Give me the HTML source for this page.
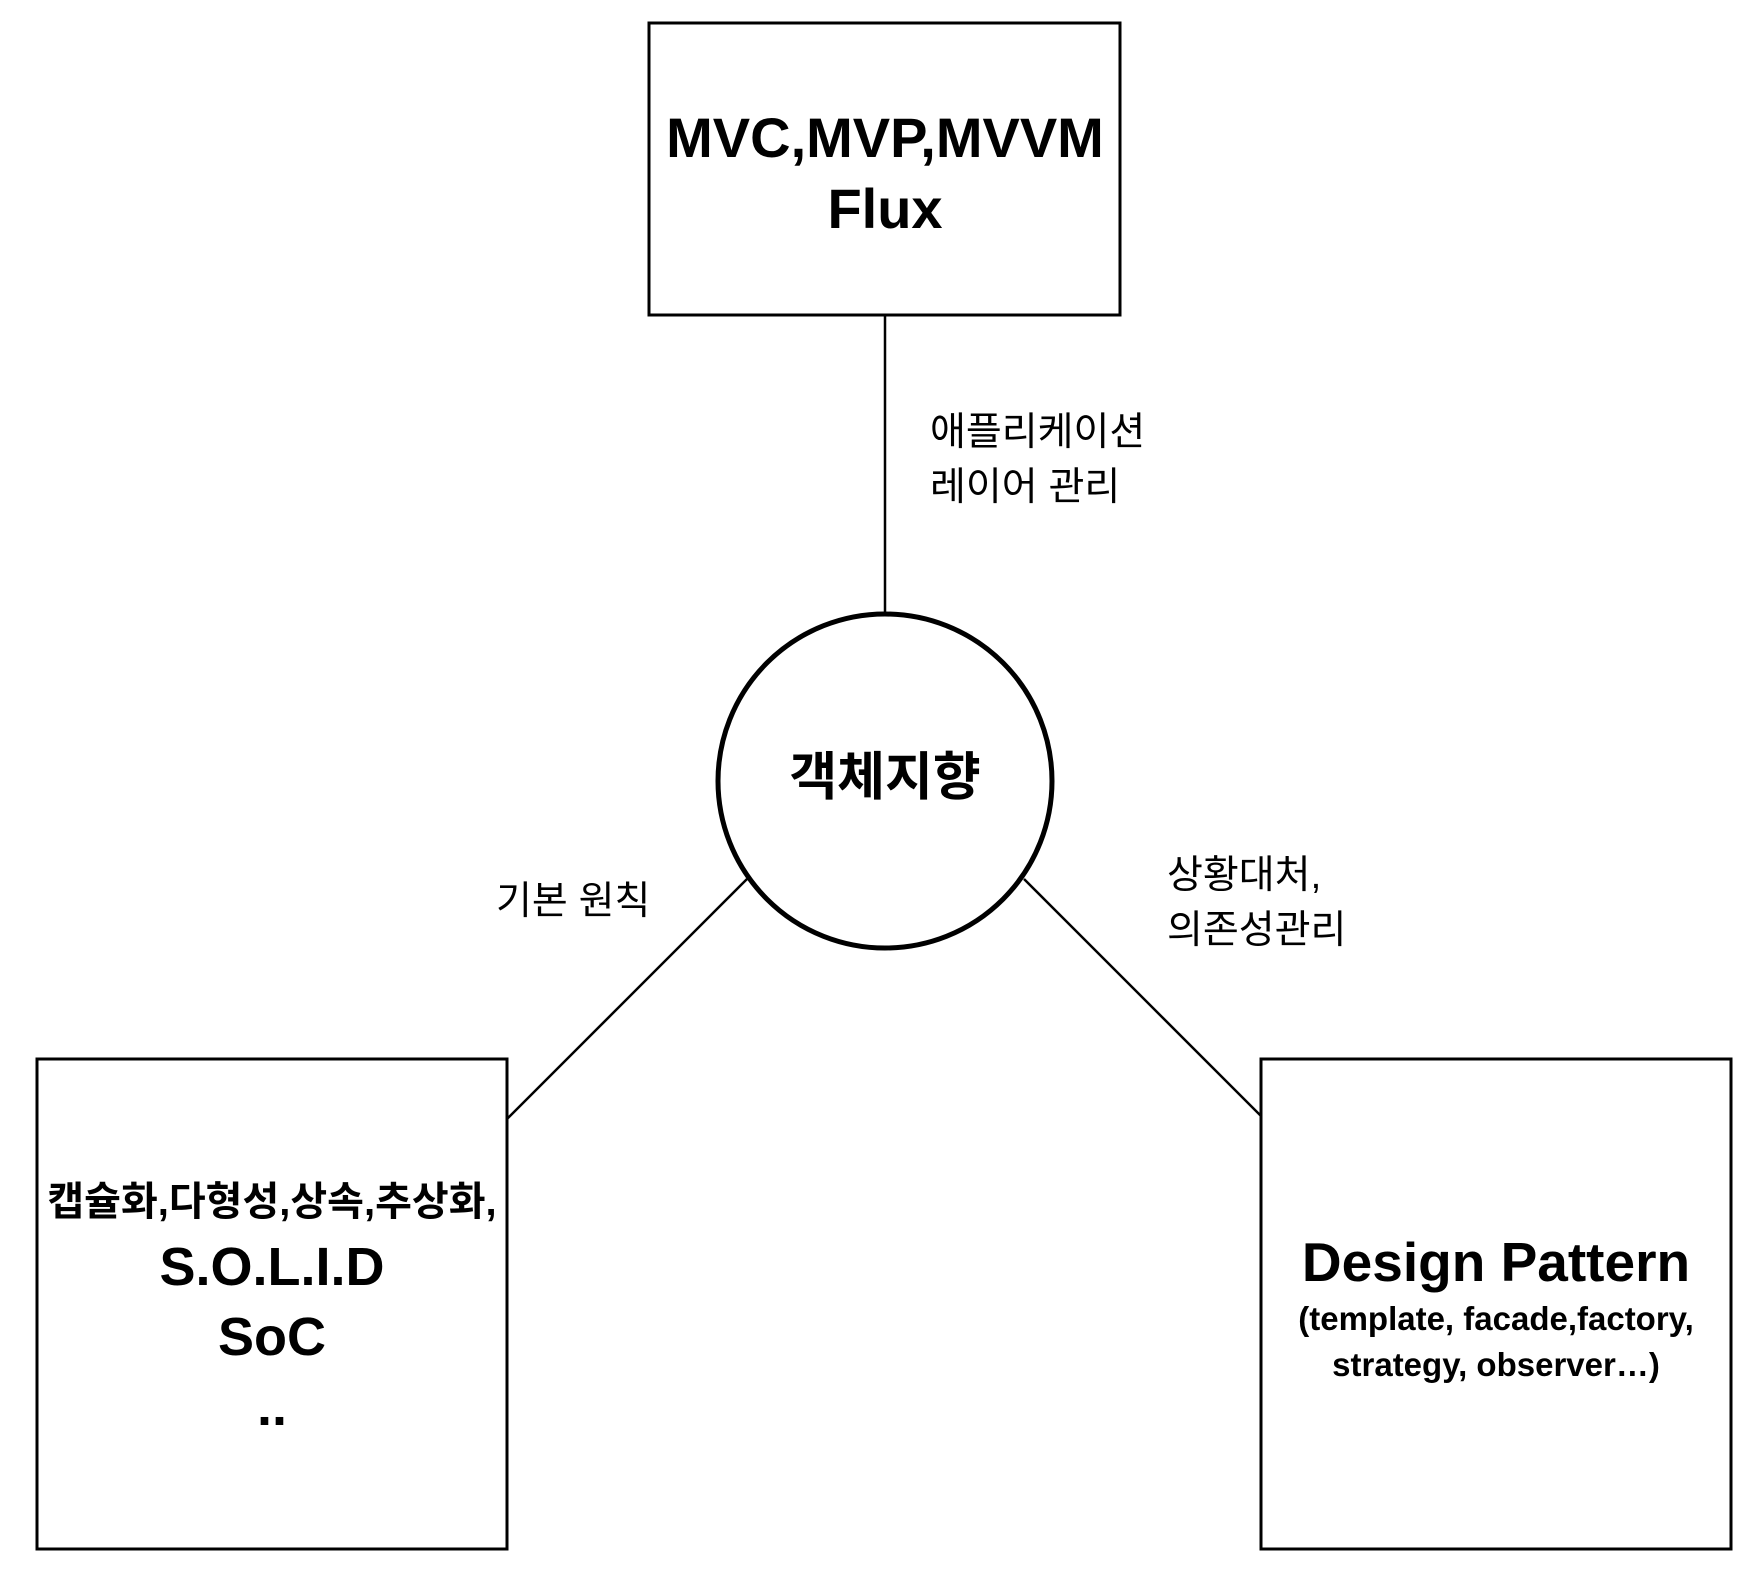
<!DOCTYPE html>
<html><head><meta charset="utf-8"><style>
html,body{margin:0;padding:0;background:#fff;}
svg text{font-family:"Liberation Sans","Noto Sans CJK KR",sans-serif;fill:#000;}
</style></head><body>
<svg width="1754" height="1576" viewBox="0 0 1754 1576" xmlns="http://www.w3.org/2000/svg">
<rect width="1754" height="1576" fill="#fff"/>
<g stroke="#000" fill="none">
<rect x="649" y="23" width="471" height="292" stroke-width="3"/>
<rect x="37" y="1059" width="470" height="490" stroke-width="3"/>
<rect x="1261" y="1059" width="470" height="490" stroke-width="3"/>
<line x1="885" y1="315" x2="885" y2="612" stroke-width="2.5"/>
<line x1="747" y1="879" x2="507" y2="1119" stroke-width="2.5"/>
<line x1="1024" y1="879" x2="1261" y2="1116" stroke-width="2.5"/>
<circle cx="885" cy="781" r="167" stroke-width="5" fill="#fff"/>
</g>
<g text-anchor="middle" font-weight="bold">
<text x="885" y="157" font-size="56">MVC,MVP,MVVM</text>
<text x="885" y="228" font-size="56">Flux</text>
<text x="885" y="795" font-size="52">객체지향</text>
<text x="272" y="1215" font-size="40">캡슐화,다형성,상속,추상화,</text>
<text x="272" y="1285" font-size="54">S.O.L.I.D</text>
<text x="272" y="1355" font-size="54">SoC</text>
<text x="272" y="1425" font-size="54">..</text>
<text x="1496" y="1281" font-size="55">Design Pattern</text>
<text x="1496" y="1330" font-size="33">(template, facade,factory,</text>
<text x="1496" y="1376" font-size="33">strategy, observer…)</text>
</g>
<g font-size="39">
<text x="930" y="445">애플리케이션</text>
<text x="930" y="500">레이어 관리</text>
<text x="496" y="914">기본 원칙</text>
<text x="1167" y="888">상황대처,</text>
<text x="1167" y="943">의존성관리</text>
</g>
</svg>
</body></html>
